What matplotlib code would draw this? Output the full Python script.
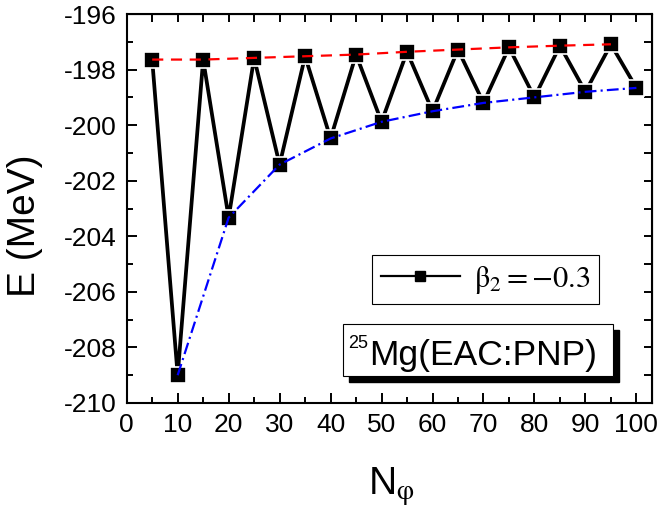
import matplotlib
matplotlib.use("Agg")
import matplotlib.pyplot as plt
from matplotlib.lines import Line2D
from matplotlib.patches import Rectangle
from matplotlib.font_manager import FontProperties
from matplotlib.ticker import MultipleLocator

# Energy vs number of gauge points N_phi (25Mg, EAC:PNP), beta2 = -0.3
n_phi = [5, 10, 15, 20, 25, 30, 35, 40, 45, 50,
         55, 60, 65, 70, 75, 80, 85, 90, 95, 100]
energy = [-197.64, -209.00, -197.64, -203.33, -197.58, -201.42, -197.52, -200.48,
          -197.46, -199.88, -197.36, -199.50, -197.28, -199.20, -197.20, -199.00,
          -197.14, -198.80, -197.09, -198.66]

# upper (odd) and lower (even) envelopes
upper_n, upper_e = n_phi[0::2], energy[0::2]
lower_n, lower_e = n_phi[1::2], energy[1::2]

x_ticks = list(range(0, 101, 10))
y_ticks = list(range(-210, -195, 2))

plt.rcParams['font.family'] = ['Liberation Sans', 'DejaVu Sans']
plt.rcParams['axes.unicode_minus'] = False
plt.rcParams['lines.scale_dashes'] = False

W, H = 659, 515
fig = plt.figure(figsize=(W / 100, H / 100), dpi=100)
ax = fig.add_axes([126.7 / W, 112 / H, 525 / W, 389 / H])

# main curve
ax.plot(n_phi, energy, color='k', lw=2.7, marker='s', ms=11,
        mfc='k', mec='white', mew=1.2, zorder=2)
# envelopes
ax.plot(upper_n, upper_e, color='red', lw=1.6, dashes=(8, 5.5), zorder=3)
ax.plot(lower_n, lower_e, color='blue', lw=1.6, dashes=(8.5, 3, 1.5, 3), zorder=3)

ax.set_xlim(0, 103)
ax.set_ylim(-210, -196)
ax.set_xticks(x_ticks)
ax.set_yticks(y_ticks)
ax.xaxis.set_minor_locator(MultipleLocator(5))
ax.yaxis.set_minor_locator(MultipleLocator(1))
ax.tick_params(which='both', direction='in', width=1.4, colors='k')
ax.tick_params(which='major', length=7)
ax.tick_params(which='minor', length=4.5)
ax.tick_params(axis='x', which='major', labelsize=19, pad=7)
ax.tick_params(axis='y', which='major', labelsize=19, pad=7)
for s in ax.spines.values():
    s.set_linewidth(1.5)

# ticks on top and right, no labels
top = ax.secondary_xaxis('top')
top.xaxis.set_major_locator(MultipleLocator(5))
top.tick_params(direction='in', length=5.5, width=1.4, labeltop=False)
right = ax.secondary_yaxis('right')
right.yaxis.set_major_locator(MultipleLocator(1))
right.tick_params(direction='in', length=5.5, width=1.4, labelright=False)

ax.set_ylabel('E (MeV)', fontsize=28, va='center', ha='center')
ax.yaxis.set_label_coords((25 - 126.7) / 525, 0.455)
ax.set_xlabel(r'N$_{\mathrm{\varphi}}$', fontsize=28, va='baseline', ha='center',
              math_fontfamily='stix')
ax.xaxis.set_label_coords(0.505, -0.2365)

# legend
handle = Line2D([], [], color='k', lw=1.6, marker='s', ms=7.5)
leg = ax.legend([handle], [r'$\mathrm{\beta_2 = -0.3}$'], loc='upper left',
                bbox_to_anchor=(372 / W, 1 - 255 / H), bbox_transform=fig.transFigure,
                prop=FontProperties(family='Liberation Serif', size=22, math_fontfamily='stix'),
                frameon=True, fancybox=False, edgecolor='k', framealpha=1,
                borderaxespad=0, handlelength=2.6, handletextpad=0.45, borderpad=0.28)
leg.get_frame().set_linewidth(0.8)

# label box with shadow
bx0, by0, bw, bh = 343 / W, 1 - 376 / H, 270 / W, 52 / H
fig.add_artist(Rectangle((bx0 + 6 / W, by0 - 6 / H), bw, bh, transform=fig.transFigure,
                         facecolor='k', edgecolor='k', zorder=5))
fig.add_artist(Rectangle((bx0, by0), bw, bh, transform=fig.transFigure,
                         facecolor='white', edgecolor='k', lw=0.8, zorder=6))
fig.text(369 / W, 1 - 365 / H, 'Mg(EAC:PNP)', fontsize=25.5, ha='left', va='baseline', zorder=7)
fig.text(368 / W, 1 - 348 / H, '25', fontsize=13, ha='right', va='baseline', zorder=7)

fig.savefig('out.png', dpi=100)
